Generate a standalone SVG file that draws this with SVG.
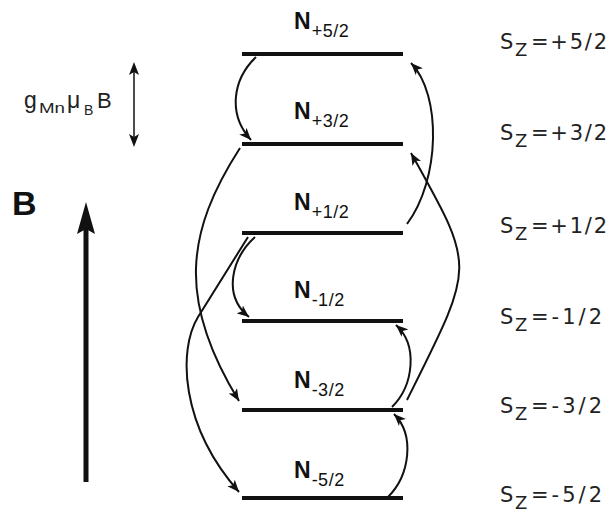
<svg xmlns="http://www.w3.org/2000/svg" width="609" height="518" viewBox="0 0 609 518">
<defs>
<style>
.lvl{stroke:#111;stroke-width:4;fill:none}
.con{stroke:#111;stroke-width:2;fill:none;marker-end:url(#ah)}
.nl{font-family:"Liberation Sans",Arial,sans-serif;font-weight:bold;font-size:23px;fill:#111}
.ns{font-family:"Liberation Sans",Arial,sans-serif;font-weight:normal;font-size:18px;letter-spacing:0.5px;fill:#111}
.sz{font-family:"DejaVu Sans",sans-serif;font-size:21px;fill:#222}
.szs{font-family:"DejaVu Sans",sans-serif;font-size:18px;fill:#222}
.lab{font-family:"Liberation Sans",Arial,sans-serif;fill:#222}
</style>
<marker id="ah" markerUnits="userSpaceOnUse" markerWidth="13" markerHeight="10" refX="12" refY="5" orient="auto" viewBox="0 0 13 10">
<path d="M0,0 L12,5 L0,10 L3,5 Z" fill="#111"/>
</marker>
</defs>
<rect width="609" height="518" fill="#fff"/>

<g id="level-p52">
<line class="lvl" x1="242" y1="54" x2="403" y2="54"/>
<text class="nl" x="294" y="29">N<tspan class="ns" dy="8" dx="1">+5/2</tspan></text>
</g>
<g id="level-p32">
<line class="lvl" x1="242" y1="144" x2="403" y2="144"/>
<text class="nl" x="294" y="119">N<tspan class="ns" dy="8" dx="1">+3/2</tspan></text>
</g>
<g id="level-p12">
<line class="lvl" x1="242" y1="233" x2="403" y2="233"/>
<text class="nl" x="294" y="210">N<tspan class="ns" dy="8" dx="1">+1/2</tspan></text>
</g>
<g id="level-m12">
<line class="lvl" x1="242" y1="321" x2="403" y2="321"/>
<text class="nl" x="294" y="298">N<tspan class="ns" dy="8" dx="1">-1/2</tspan></text>
</g>
<g id="level-m32">
<line class="lvl" x1="242" y1="410" x2="403" y2="410"/>
<text class="nl" x="294" y="388">N<tspan class="ns" dy="8" dx="1">-3/2</tspan></text>
</g>
<g id="level-m52">
<line class="lvl" x1="242" y1="498" x2="403" y2="498"/>
<text class="nl" x="294" y="478">N<tspan class="ns" dy="8" dx="1">-5/2</tspan></text>
</g>

<g id="connectors">
<path class="con" d="M256,57 C232,80 228,115 251,140"/>
<path class="con" d="M240,148 C186,232 177,300 239,401"/>
<path class="con" d="M248,237 L198,317 C178,350 180,425 239,492"/>
<path class="con" d="M255,237 C232,258 222,295 249,317"/>
<path class="con" d="M388,497 C410,475 415,435 394,414"/>
<path class="con" d="M392,407 C414,385 418,345 396,325"/>
<path class="con" d="M407,400 C476,262 476,270 411,153"/>
<path class="con" d="M407,224 C440,180 442,95 411,63"/>
</g>

<g id="sz-labels">
<text class="sz" x="500" y="49">S</text><text class="szs" x="515" y="56">Z</text><text class="sz" x="531" y="49" textLength="76" lengthAdjust="spacing">=+5/2</text>
<text class="sz" x="500" y="140">S</text><text class="szs" x="515" y="147">Z</text><text class="sz" x="531" y="140" textLength="76" lengthAdjust="spacing">=+3/2</text>
<text class="sz" x="500" y="233">S</text><text class="szs" x="515" y="240">Z</text><text class="sz" x="531" y="233" textLength="76" lengthAdjust="spacing">=+1/2</text>
<text class="sz" x="500" y="324">S</text><text class="szs" x="515" y="331">Z</text><text class="sz" x="531" y="324" textLength="71" lengthAdjust="spacing">=-1/2</text>
<text class="sz" x="500" y="413">S</text><text class="szs" x="515" y="420">Z</text><text class="sz" x="531" y="413" textLength="71" lengthAdjust="spacing">=-3/2</text>
<text class="sz" x="500" y="502">S</text><text class="szs" x="515" y="509">Z</text><text class="sz" x="531" y="502" textLength="71" lengthAdjust="spacing">=-5/2</text>
</g>

<g id="energy-scale">
<text class="lab" x="24" y="108" font-size="23">g</text>
<text class="lab" x="39" y="113" font-size="14" textLength="26" lengthAdjust="spacingAndGlyphs">Mn</text>
<text class="lab" x="67" y="108" font-size="23">μ</text>
<text class="lab" x="84" y="115" font-size="14">B</text>
<text class="lab" x="97" y="108" font-size="22">B</text>
<line x1="134" y1="70" x2="134" y2="139" stroke="#111" stroke-width="1.5"/>
<path d="M134,62 L139,75 L134,72 L129,75 Z" fill="#111"/>
<path d="M134,147 L139,134 L134,137 L129,134 Z" fill="#111"/>
</g>

<g id="field-B">
<text x="12" y="215" font-family="'Liberation Sans',Arial,sans-serif" font-weight="bold" font-size="34" fill="#111">B</text>
<line x1="86" y1="482" x2="86" y2="226" stroke="#111" stroke-width="5"/>
<path d="M86,202 L95,234 L86,229 L77,234 Z" fill="#111"/>
</g>
</svg>
